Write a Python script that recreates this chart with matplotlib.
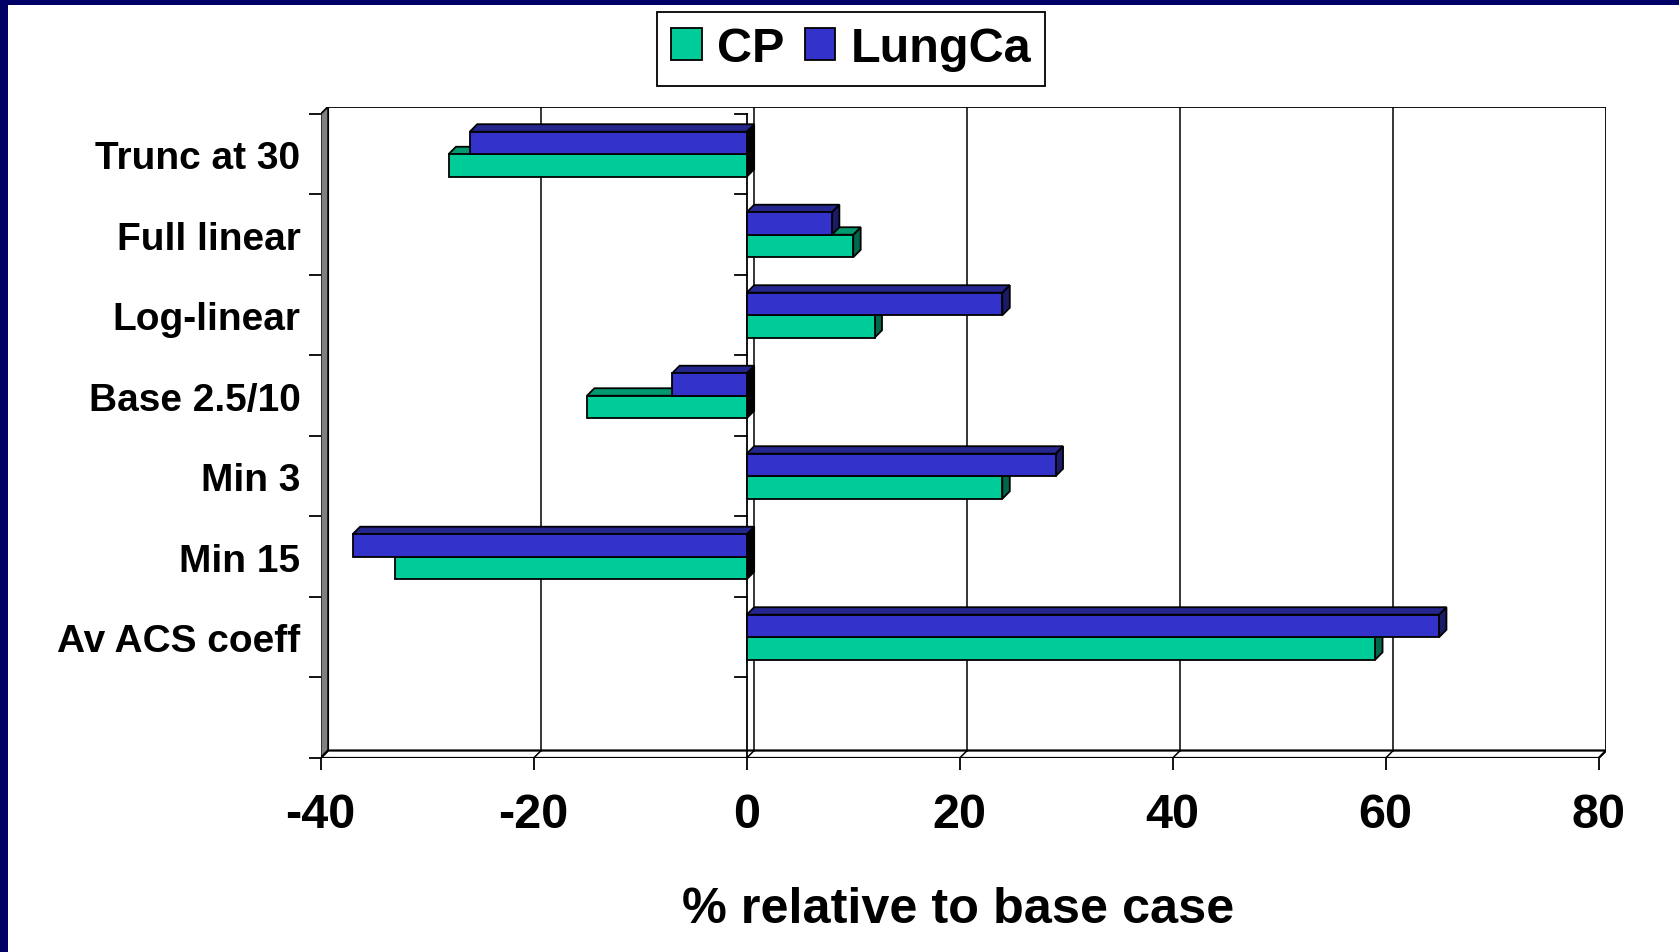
import matplotlib.pyplot as plt
from matplotlib.patches import Polygon, Rectangle, Patch

# sensitivity of results, % change relative to the base case
categories = ["Trunc at 30", "Full linear", "Log-linear", "Base 2.5/10",
              "Min 3", "Min 15", "Av ACS coeff"]
cp = [-28, 10, 12, -15, 24, -33, 59]
lungca = [-26, 8, 24, -7, 29, -37, 65]
xticks = [-40, -20, 0, 20, 40, 60, 80]

GREEN = ("#00CC99", "#009970", "#00664C")   # front, top, side
BLUE = ("#3333CC", "#26268F", "#1C1C66")
NSLOT = 8            # one empty slot left under the last category
BAR_H = 0.28
DX, DY = 0.70, 0.093  # depth offset of the 3d look, in data units
LW = 1.3

plt.rcParams["font.family"] = ["Liberation Sans", "DejaVu Sans"]
plt.rcParams["font.weight"] = "bold"

W, H = 1679, 953
fig = plt.figure(figsize=(W / 100, H / 100), dpi=100)
ax = fig.add_axes([320.7 / W, 1 - 759 / H, 1285.5 / W, 651.5 / H])
ax.set_xlim(-40, 80 + DX)
ax.set_ylim(0, NSLOT + DY)
for s in ax.spines.values():
    s.set_visible(False)
xmin, xmax = xticks[0], xticks[-1]

# back wall, side wall and floor
ax.add_patch(Rectangle((xmin + DX, DY), xmax - xmin, NSLOT, facecolor="white",
                       edgecolor="black", lw=LW, zorder=1))
ax.add_patch(Polygon([(xmin, 0), (xmin + DX, DY), (xmin + DX, NSLOT + DY), (xmin, NSLOT)],
                     facecolor="#808080", edgecolor="black", lw=LW, zorder=1))
ax.add_patch(Polygon([(xmin, 0), (xmax, 0), (xmax + DX, DY), (xmin + DX, DY)],
                     facecolor="white", edgecolor="black", lw=1.6, zorder=1))
for x in xticks:
    ax.plot([x, x + DX], [0, DY], color="black", lw=1.1, zorder=2)
    if xmin < x < xmax:
        ax.plot([x + DX, x + DX], [DY, NSLOT + DY], color="black", lw=1.1, zorder=2)

# category axis crossing at zero
ax.plot([0, 0], [0, NSLOT], color="black", lw=LW, zorder=3)
for y in range(NSLOT + 1):
    ax.plot([-1.1, 0], [y, y], color="black", lw=LW, zorder=3)


def bar3d(y0, v, colors):
    x0, x1 = min(0, v), max(0, v)
    front, top, side = colors
    if v < 0:
        side = "black"  # end face at zero reads as a black strip
    ax.add_patch(Polygon([(x1, y0), (x1, y0 + BAR_H), (x1 + DX, y0 + BAR_H + DY), (x1 + DX, y0 + DY)],
                         facecolor=side, edgecolor="black", lw=LW, zorder=4))
    ax.add_patch(Polygon([(x0, y0 + BAR_H), (x0 + DX, y0 + BAR_H + DY),
                          (x1 + DX, y0 + BAR_H + DY), (x1, y0 + BAR_H)],
                         facecolor=top, edgecolor="black", lw=LW, zorder=4))
    ax.add_patch(Rectangle((x0, y0), x1 - x0, BAR_H, facecolor=front,
                           edgecolor="black", lw=LW, zorder=4))


centers = [NSLOT - 0.5 - i for i in range(len(categories))]
for yc, a, b in zip(centers, cp, lungca):
    bar3d(yc - BAR_H, a, GREEN)
    bar3d(yc, b, BLUE)

ax.set_xticks(xticks)
ax.set_xticklabels([str(t) for t in xticks], fontsize=35, fontweight="bold")
ax.tick_params(axis="x", direction="out", length=8.6, width=LW, pad=16)
ax.set_yticks(range(NSLOT + 1))
ax.set_yticklabels([])
ax.tick_params(axis="y", which="major", direction="out", length=8.6, width=LW)
ax.set_yticks(centers, minor=True)
ax.set_yticklabels(categories, minor=True, fontsize=28, fontweight="bold")
ax.tick_params(axis="y", which="minor", length=0, pad=14.5)

ax.set_xlabel("% relative to base case", fontsize=36.3, fontweight="bold")
ax.xaxis.set_label_coords(0.4958, -0.197)
ax.xaxis.label.set_va("top")

handles = [Patch(facecolor=GREEN[0], edgecolor="black", lw=LW, label="CP"),
           Patch(facecolor=BLUE[0], edgecolor="black", lw=LW, label="LungCa")]
leg = fig.legend(handles=handles, loc="center", bbox_to_anchor=(851 / W, 1 - 50 / H),
                 ncol=2, prop={"weight": "bold", "size": 35},
                 frameon=True, fancybox=False, edgecolor="black", framealpha=1,
                 handlelength=0.63, handleheight=0.63, handletextpad=0.31,
                 columnspacing=0.42, borderpad=0.3, borderaxespad=0)
leg.get_frame().set_linewidth(LW)

# dark presentation frame on the left and top edges
fig.add_artist(Rectangle((0, 0), 8 / W, 1, transform=fig.transFigure,
                         facecolor="#000066", edgecolor="none"))
fig.add_artist(Rectangle((0, 1 - 6 / H), 1, 6 / H, transform=fig.transFigure,
                         facecolor="#000066", edgecolor="none"))

fig.savefig("out.png", dpi=100)
